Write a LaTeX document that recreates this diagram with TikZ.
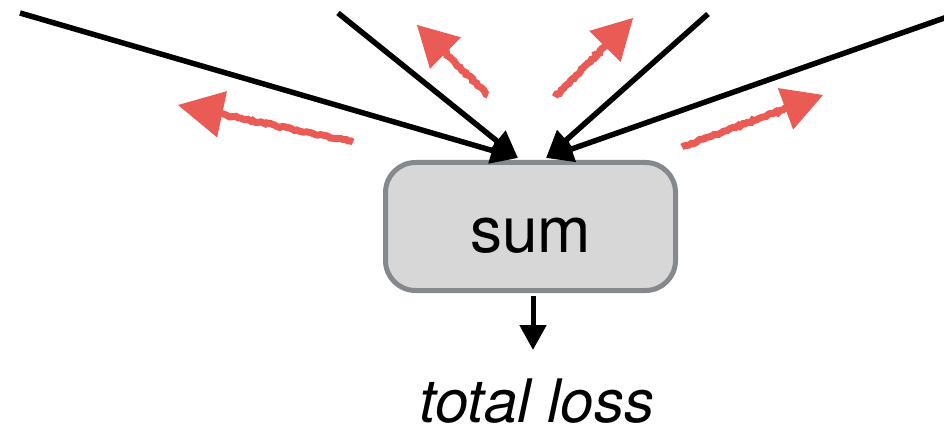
\documentclass[tikz,border=0pt]{standalone}
\usepackage{fontspec}
\setmainfont{TeX Gyre Heros}
\usetikzlibrary{arrows.meta,calc,decorations.pathmorphing}
\definecolor{gradred}{HTML}{EB5B55}
\definecolor{boxedge}{HTML}{85898D}
\definecolor{boxfill}{HTML}{D7D7D7}
\begin{document}
\begin{tikzpicture}[x=1pt,y=-1pt,
  inline/.style={line width=5.5pt,-{Triangle[length=27pt,width=26pt]}},
  outline/.style={line width=5pt,-{Triangle[length=25pt,width=26pt]}},
  gradshaft/.style={line width=7pt,color=gradred,
    decoration={random steps,segment length=2.5pt,amplitude=1pt},decorate},
  gradhead/.style={line width=1pt,color=gradred,-{Triangle[length=40pt,width=44pt]}},
  sumbox/.style={draw=boxedge,fill=boxfill,line width=5pt,rounded corners=30pt,
    minimum width=290pt,minimum height=128pt,text height=51pt,text depth=0pt,
    font=\fontsize{64}{64}\selectfont},
  losslabel/.style={anchor=base,inner sep=0pt,font=\fontsize{60}{60}\selectfont\itshape}]
\useasboundingbox (0,0) rectangle (944,430);

% red gradient arrows
\coordinate (t1) at (353,142); \coordinate (h1) at (178,105);
\coordinate (t2) at (488,95);  \coordinate (h2) at (417,25);
\coordinate (t3) at (555,97);  \coordinate (h3) at (633,18);
\coordinate (t4) at (682,147); \coordinate (h4) at (823,95);
\draw[gradshaft] (t1) -- ($(h1)!40pt!(t1)$);
\draw[gradhead,-{Triangle[length=45pt,width=47pt]}] ($(h1)!44pt!(t1)$) -- (h1);
\draw[gradshaft] (t2) -- ($(h2)!35pt!(t2)$);
\draw[gradhead] ($(h2)!39pt!(t2)$) -- (h2);
\draw[gradshaft] (t3) -- ($(h3)!35pt!(t3)$);
\draw[gradhead] ($(h3)!39pt!(t3)$) -- (h3);
\draw[gradshaft] (t4) -- ($(h4)!35pt!(t4)$);
\draw[gradhead] ($(h4)!39pt!(t4)$) -- (h4);

% sum node
\node[sumbox] (sum) at (530.5,226.5) {sum};

% incoming lines
\coordinate (s1) at (20,13);
\coordinate (s2) at (338,13);
\coordinate (s3) at (708,14);
\coordinate (s4) at (950,16);
\coordinate (e1) at (518,158);
\coordinate (e3) at (546,158);
\draw[inline] (s1) -- (e1);
\draw[inline] (s2) -- (e1);
\draw[inline] (s3) -- (e3);
\draw[inline] (s4) -- (e3);

% output
\node[losslabel] (loss) at (537,422) {total loss};
\coordinate (out) at (533,350);
\draw[outline] (sum.south -| out) ++(0,3) -- (out);
\end{tikzpicture}
\end{document}
